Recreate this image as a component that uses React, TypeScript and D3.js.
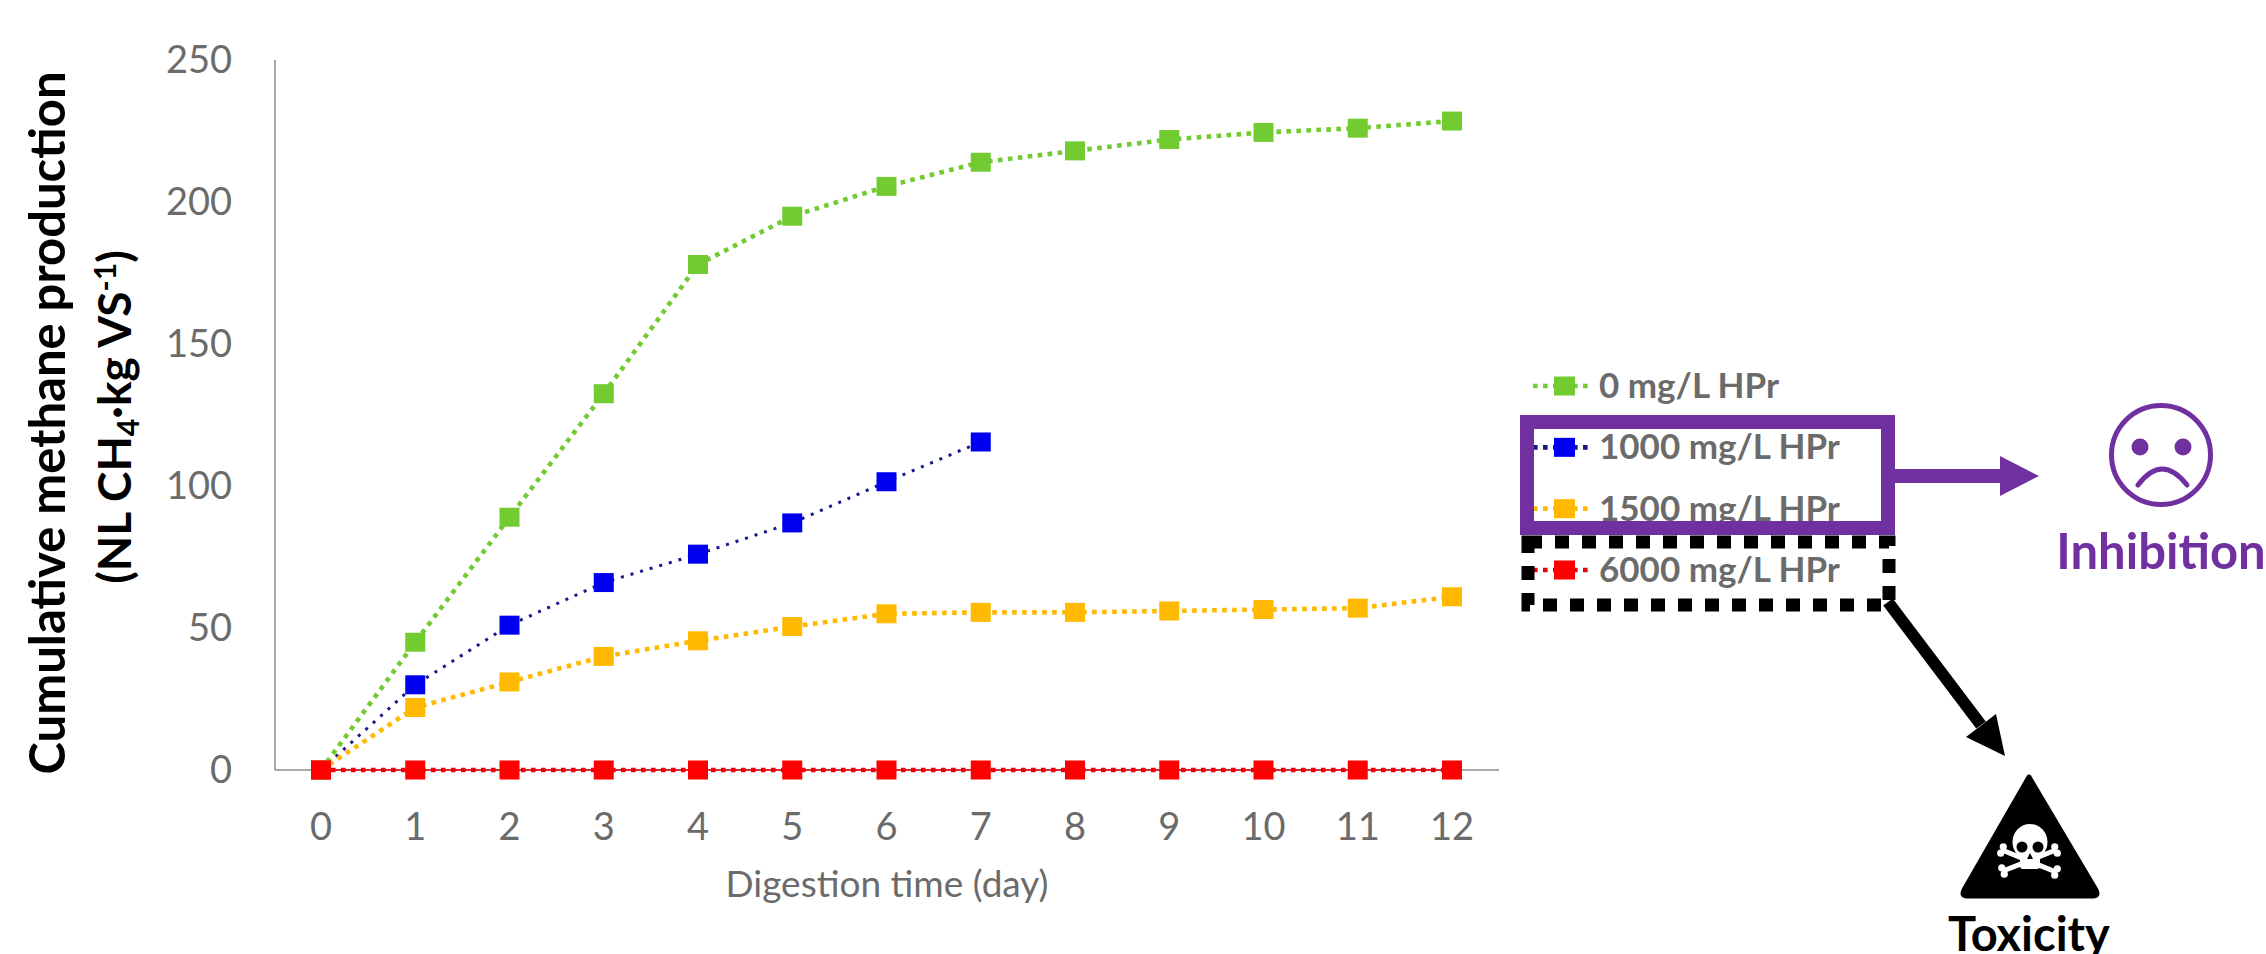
import React from "react";
import * as d3 from "d3";

const days = [0, 1, 2, 3, 4, 5, 6, 7, 8, 9, 10, 11, 12];
const yTicks = [0, 50, 100, 150, 200, 250];
const green = [0, 45, 89, 132.5, 178, 195, 205.5, 214, 218, 222, 224.5, 226, 228.5];
const blue = [0, 30, 51, 66, 76, 87, 101.5, 115.5];
const orange = [0, 22, 31, 40, 45.5, 50.5, 55, 55.5, 55.5, 56, 56.5, 57, 61];
const red = [0, 0, 0, 0, 0, 0, 0, 0, 0, 0, 0, 0, 0];
const legendLabels = ["0 mg/L HPr", "1000 mg/L HPr", "1500 mg/L HPr", "6000 mg/L HPr"];
const seriesColors = ["#72CB31", "#0000F0", "#FFB900", "#FF0000"];
const lineColors = ["#72CB31", "#17178C", "#FFB900", "#E8000C"];
const seriesValues = [green, blue, orange, red];

const W = 2266;
const H = 954;
const FONT = "Lato, Carlito, Calibri, sans-serif";
const GREY = "#6b6b6b";
const PURPLE = "#7030A0";

const x = d3.scaleLinear().domain([0, 12]).range([321, 1452]);
const y = d3.scaleLinear().domain([0, 250]).range([770, 60]);
const line = d3
  .line<number>()
  .x((_, i) => x(days[i]))
  .y((d) => y(d));
const legendY = d3.scalePoint<string>().domain(legendLabels).range([386, 570]);

function Bone({ x1, y1, x2, y2 }: { x1: number; y1: number; x2: number; y2: number }) {
  const a = Math.atan2(y2 - y1, x2 - x1);
  const nx = -Math.sin(a) * 3.4;
  const ny = Math.cos(a) * 3.4;
  return (
    <g fill="#fff">
      <line x1={x1} y1={y1} x2={x2} y2={y2} stroke="#fff" strokeWidth={5} />
      <circle cx={x1 + nx} cy={y1 + ny} r={3.6} />
      <circle cx={x1 - nx} cy={y1 - ny} r={3.6} />
      <circle cx={x2 + nx} cy={y2 + ny} r={3.6} />
      <circle cx={x2 - nx} cy={y2 - ny} r={3.6} />
    </g>
  );
}

export default function App() {
  return (
    <svg
      width={W}
      height={H}
      viewBox={`0 0 ${W} ${H}`}
      style={{ position: "absolute", left: 0, top: 0, display: "block", background: "#fff" }}
      fontFamily={FONT}
    >
      {/* axes */}
      <line x1={x(0) - 46} x2={x(12) + 47} y1={y(0)} y2={y(0)} stroke="#8c8c8c" strokeWidth={1.5} />
      <line x1={275} x2={275} y1={y(250)} y2={y(0)} stroke="#8c8c8c" strokeWidth={1.5} />
      {yTicks.map((t) => (
        <text key={t} x={232} y={y(t) + 13} textAnchor="end" fontSize={38} fill={GREY}>
          {t}
        </text>
      ))}
      {days.map((d) => (
        <text key={d} x={x(d)} y={840} textAnchor="middle" fontSize={38} fill={GREY}>
          {d}
        </text>
      ))}
      <text x={887} y={897} textAnchor="middle" fontSize={37} fill={GREY}>
        Digestion time (day)
      </text>

      {/* y title */}
      <text
        transform="translate(65,423) rotate(-90)"
        textAnchor="middle"
        fontSize={49}
        fontWeight={700}
        fill="#000"
      >
        Cumulative methane production
      </text>
      <text
        transform="translate(131,417) rotate(-90)"
        textAnchor="middle"
        fontSize={46}
        fontWeight={700}
        fill="#000"
      >
        (NL CH<tspan fontSize={30} dy={8}>4</tspan>
        <tspan dy={-8}>·kg VS</tspan>
        <tspan fontSize={30} dy={-15}>-1</tspan>
        <tspan dy={15}>)</tspan>
      </text>

      {/* series */}
      {seriesValues.map((vals, s) => (
        <g key={legendLabels[s]}>
          {s === 3 && <path d={line(vals) ?? ""} fill="none" stroke={lineColors[s]} strokeWidth={1.5} />}
          <path
            d={line(vals) ?? ""}
            fill="none"
            stroke={lineColors[s]}
            strokeWidth={s === 1 ? 3 : 4.6}
            strokeDasharray={s === 1 ? "3 7" : "4.6 5.4"}
          />
          {vals.map((v, i) => (
            <rect
              key={i}
              x={x(days[i]) - 10}
              y={y(v) - 9.5}
              width={20}
              height={19}
              fill={seriesColors[s]}
            />
          ))}
        </g>
      ))}

      {/* legend */}
      {legendLabels.map((l, s) => {
        const ly = legendY(l) ?? 0;
        return (
          <g key={l}>
            <line
              x1={1533}
              x2={1590}
              y1={ly}
              y2={ly}
              stroke={lineColors[s]}
              strokeWidth={4.6}
              strokeDasharray="4.6 5.4"
            />
            <rect x={1554} y={ly - 9.5} width={21} height={19} fill={seriesColors[s]} />
            <text x={1599} y={ly + 12} fontSize={35} fontWeight={700} fill={GREY}>
              {l}
            </text>
          </g>
        );
      })}

      {/* toxicity box and arrow */}
      <rect
        x={1528}
        y={542}
        width={361}
        height={63}
        fill="none"
        stroke="#000"
        strokeWidth={13}
        strokeDasharray="14 13"
      />
      <line x1={1888} y1={602} x2={1981} y2={725} stroke="#000" strokeWidth={12} />
      <path d="M2005,756 L1966,737 L1996,714 Z" fill="#000" />

      {/* inhibition box and arrow */}
      <rect x={1527} y={422} width={361} height={106} fill="none" stroke={PURPLE} strokeWidth={14} />
      <rect x={1895} y={469} width={106} height={14} fill={PURPLE} />
      <path d="M2000,456 L2039,476 L2000,496 Z" fill={PURPLE} />

      {/* sad face */}
      <circle cx={2161} cy={455} r={49.5} fill="none" stroke={PURPLE} strokeWidth={5} />
      <circle cx={2140} cy={447} r={8.5} fill={PURPLE} />
      <circle cx={2183} cy={447} r={8.5} fill={PURPLE} />
      <path
        d="M2138,485 Q2162,453 2187,485"
        fill="none"
        stroke={PURPLE}
        strokeWidth={5}
        strokeLinecap="round"
      />
      <text x={2161} y={569} textAnchor="middle" fontSize={49} fontWeight={700} fill={PURPLE}>
        Inhibition
      </text>

      {/* toxicity sign */}
      <path
        d="M2029,777 L2096,890 Q2099,896 2093,896 L1967,896 Q1961,896 1964,890 Z"
        fill="#000"
        stroke="#000"
        strokeWidth={5}
        strokeLinejoin="round"
      />
      <Bone x1={2002} y1={850} x2={2056} y2={872} />
      <Bone x1={2056} y1={850} x2={2003} y2={871} />
      <ellipse cx={2030} cy={842} rx={17.5} ry={18} fill="#fff" />
      <rect x={2020} y={852} width={20} height={17} rx={3} fill="#fff" />
      <circle cx={2022} cy={847} r={5.5} fill="#000" />
      <circle cx={2038} cy={847} r={5.5} fill="#000" />
      <path d="M2030,853 L2033,859 L2027,859 Z" fill="#000" />
      <text x={2029} y={951} textAnchor="middle" fontSize={47} fontWeight={700} fill="#000">
        Toxicity
      </text>
    </svg>
  );
}
